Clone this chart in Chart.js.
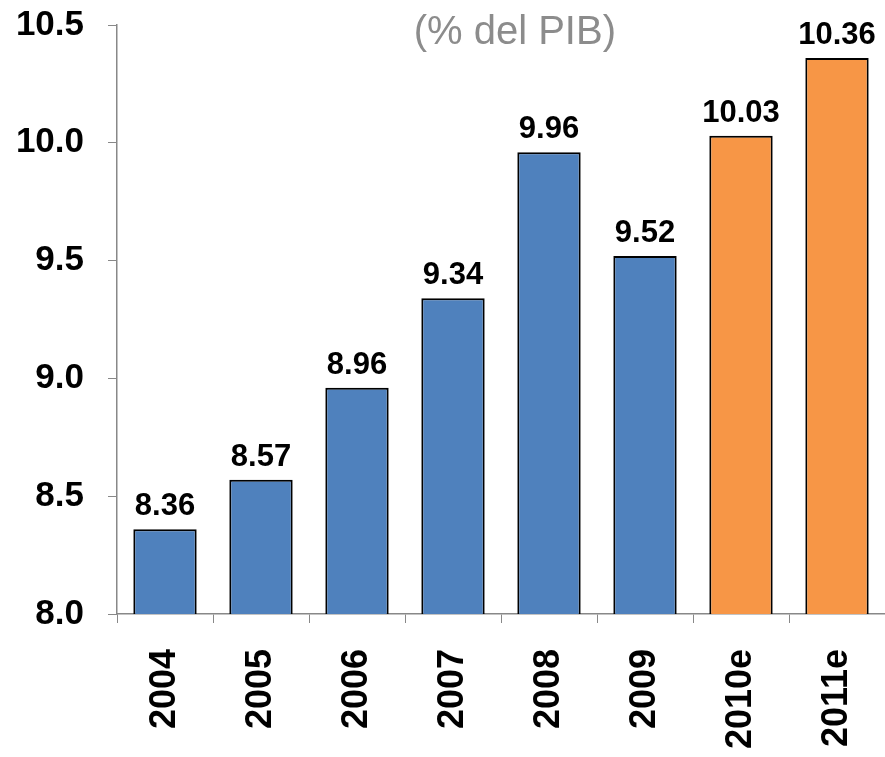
<!DOCTYPE html>
<html>
<head>
<meta charset="utf-8">
<script src="https://cdn.jsdelivr.net/npm/chart.js@4/dist/chart.umd.min.js"></script>
<style>
  html, body { margin: 0; padding: 0; background: #fff; }
  #wrap { width: 885px; height: 757px; }
</style>
</head>
<body>
<div id="wrap"><canvas id="pibChart" width="885" height="757"></canvas></div>
<script>
const years = ['2004', '2005', '2006', '2007', '2008', '2009', '2010e', '2011e'];
const values = [8.36, 8.57, 8.96, 9.34, 9.96, 9.52, 10.03, 10.36];
const barColors = ['#4F81BD', '#4F81BD', '#4F81BD', '#4F81BD', '#4F81BD', '#4F81BD', '#F79646', '#F79646'];
const yTicks = [8.0, 8.5, 9.0, 9.5, 10.0, 10.5];
const subtitle = '(% del PIB)';

const font = 'Arial, "Liberation Sans", sans-serif';

// value labels above the bars + the grey subtitle
const labelsPlugin = {
  id: 'barLabels',
  afterDatasetsDraw(chart) {
    const c = chart.ctx;
    const meta = chart.getDatasetMeta(0);
    c.save();
    c.fillStyle = '#000';
    c.font = 'bold 31px ' + font;
    c.textAlign = 'center';
    c.textBaseline = 'alphabetic';
    meta.data.forEach((bar, i) => {
      c.fillText(values[i].toFixed(2), bar.x, bar.y - 14);
    });
    const area = chart.chartArea;
    c.fillStyle = '#8c8c8c';
    c.font = '40px ' + font;
    c.fillText(subtitle, area.left + (area.right - area.left) * 0.518, 44);
    c.restore();
  }
};

const ctx = document.getElementById('pibChart').getContext('2d');
const pibChart = new Chart(ctx, {
  type: 'bar',
  data: {
    labels: years,
    datasets: [{
      data: values,
      backgroundColor: barColors,
      borderColor: '#000',
      borderWidth: 2,
      barPercentage: 0.66,
      categoryPercentage: 1.0
    }]
  },
  options: {
    responsive: false,
    animation: false,
    layout: { padding: { top: 25, right: 0, bottom: 0, left: 0 } },
    plugins: {
      legend: { display: false },
      tooltip: { enabled: false }
    },
    scales: {
      x: {
        grid: {
          drawOnChartArea: false,
          drawTicks: true,
          tickLength: 9,
          color: '#888',
          offset: true
        },
        border: { color: '#888', width: 1.5 },
        ticks: {
          color: '#000',
          font: { family: font, size: 36, weight: 'bold' },
          minRotation: 90,
          maxRotation: 90,
          padding: 26,
          autoSkip: false
        },
        afterFit(scale) {
          scale.height = 143;
          scale.paddingLeft = 0;
          scale.paddingRight = 0;
        }
      },
      y: {
        min: 8,
        max: 10.5,
        afterBuildTicks(scale) {
          scale.ticks = yTicks.map(v => ({ value: v }));
        },
        grid: {
          drawOnChartArea: false,
          drawTicks: true,
          tickLength: 9,
          color: '#888'
        },
        border: { color: '#888', width: 1.5 },
        ticks: {
          color: '#000',
          font: { family: font, size: 35, weight: 'bold' },
          padding: 24,
          callback: v => Number(v).toFixed(1)
        },
        afterFit(scale) {
          scale.width = 117;
          scale.paddingTop = 0;
          scale.paddingBottom = 0;
        }
      }
    }
  },
  plugins: [labelsPlugin]
});
</script>
</body>
</html>
